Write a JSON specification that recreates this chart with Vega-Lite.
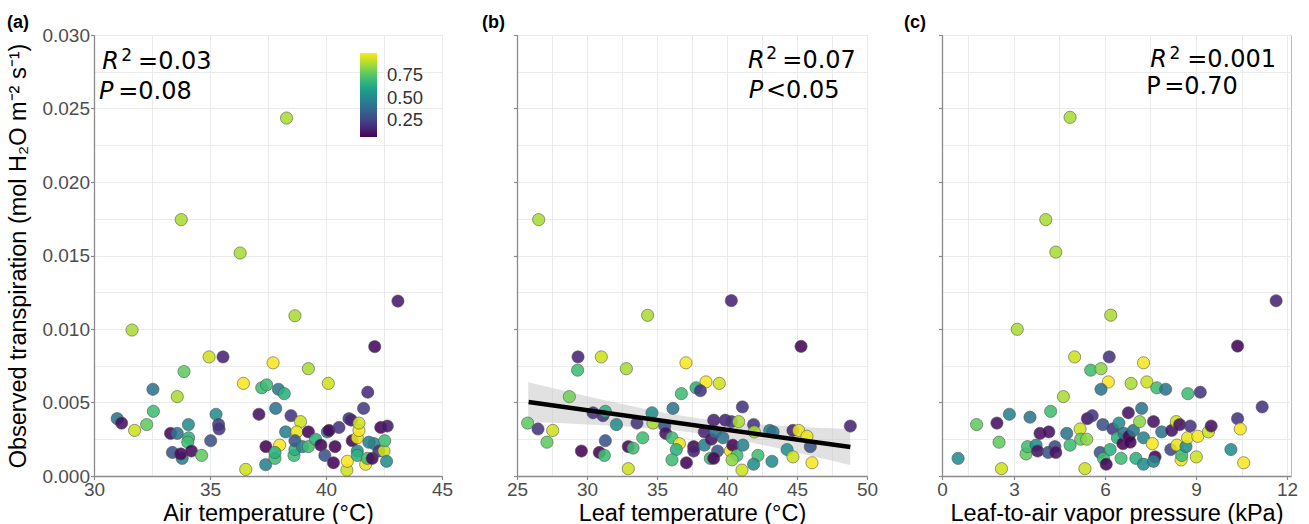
{
  "$schema": "https://vega.github.io/schema/vega-lite/v6.json",
  "background": "white",
  "padding": {"left": 6, "top": 13, "right": 5, "bottom": 0},
  "bounds": "flush",
  "spacing": 75,
  "config": {
    "font": "Liberation Sans",
    "view": {"stroke": "#bdbdbd", "strokeWidth": 1},
    "axis": {"domainColor": "#8a8a8a", "domainWidth": 1.3, "tickColor": "#8a8a8a", "tickWidth": 1.2, "tickSize": 3.5, "gridColor": "#ebebeb", "gridWidth": 1, "labelColor": "#4d4d4d", "labelFontSize": 19, "labelPadding": 1, "titleFontSize": 23.5, "titleFontWeight": "normal", "titleColor": "black", "titlePadding": 2, "labelFlush": false, "labelOverlap": false},
    "title": {"fontSize": 18, "fontWeight": "bold", "color": "black", "anchor": "start", "frame": "group", "offset": 2}
  },
  "datasets": {
    "a": [
      {"air_temp": 38.3, "E": 0.02435, "c": 0.88},
      {"air_temp": 33.76, "E": 0.01744, "c": 0.88},
      {"air_temp": 36.3, "E": 0.01517, "c": 0.88},
      {"air_temp": 31.64, "E": 0.00993, "c": 0.88},
      {"air_temp": 43.1, "E": 0.0119, "c": 0.12},
      {"air_temp": 38.66, "E": 0.0109, "c": 0.88},
      {"air_temp": 42.1, "E": 0.0088, "c": 0.08},
      {"air_temp": 34.96, "E": 0.0081, "c": 0.93},
      {"air_temp": 35.56, "E": 0.0081, "c": 0.15},
      {"air_temp": 37.72, "E": 0.0077, "c": 0.99},
      {"air_temp": 33.88, "E": 0.0071, "c": 0.77},
      {"air_temp": 39.24, "E": 0.0073, "c": 0.88},
      {"air_temp": 36.44, "E": 0.0063, "c": 0.99},
      {"air_temp": 40.1, "E": 0.0063, "c": 0.93},
      {"air_temp": 32.54, "E": 0.0059, "c": 0.42},
      {"air_temp": 37.23, "E": 0.006, "c": 0.71},
      {"air_temp": 37.44, "E": 0.0062, "c": 0.71},
      {"air_temp": 37.95, "E": 0.0059, "c": 0.44},
      {"air_temp": 38.2, "E": 0.0056, "c": 0.66},
      {"air_temp": 33.59, "E": 0.0054, "c": 0.88},
      {"air_temp": 41.8, "E": 0.0057, "c": 0.18},
      {"air_temp": 41.62, "E": 0.0046, "c": 0.22},
      {"air_temp": 37.83, "E": 0.0046, "c": 0.42},
      {"air_temp": 32.56, "E": 0.0044, "c": 0.71},
      {"air_temp": 31.0, "E": 0.0039, "c": 0.42},
      {"air_temp": 31.19, "E": 0.0036, "c": 0.1},
      {"air_temp": 31.75, "E": 0.0031, "c": 0.93},
      {"air_temp": 32.27, "E": 0.0035, "c": 0.77},
      {"air_temp": 35.26, "E": 0.0042, "c": 0.52},
      {"air_temp": 35.37, "E": 0.0035, "c": 0.22},
      {"air_temp": 35.39, "E": 0.0032, "c": 0.2},
      {"air_temp": 34.07, "E": 0.0035, "c": 0.52},
      {"air_temp": 33.3, "E": 0.0029, "c": 0.08},
      {"air_temp": 33.59, "E": 0.0029, "c": 0.42},
      {"air_temp": 34.08, "E": 0.0026, "c": 0.66},
      {"air_temp": 34.04, "E": 0.0023, "c": 0.71},
      {"air_temp": 35.03, "E": 0.0024, "c": 0.3},
      {"air_temp": 33.38, "E": 0.0016, "c": 0.3},
      {"air_temp": 33.8, "E": 0.0012, "c": 0.47},
      {"air_temp": 33.74, "E": 0.0015, "c": 0.08},
      {"air_temp": 34.2, "E": 0.0017, "c": 0.08},
      {"air_temp": 34.64, "E": 0.0014, "c": 0.77},
      {"air_temp": 36.54, "E": 0.00045, "c": 0.93},
      {"air_temp": 37.11, "E": 0.0042, "c": 0.1},
      {"air_temp": 38.49, "E": 0.0041, "c": 0.2},
      {"air_temp": 37.41, "E": 0.002, "c": 0.07},
      {"air_temp": 38.0, "E": 0.0021, "c": 0.99},
      {"air_temp": 37.4, "E": 0.00077, "c": 0.47},
      {"air_temp": 37.8, "E": 0.0012, "c": 0.71},
      {"air_temp": 37.8, "E": 0.0016, "c": 0.66},
      {"air_temp": 38.26, "E": 0.003, "c": 0.47},
      {"air_temp": 38.62, "E": 0.0014, "c": 0.71},
      {"air_temp": 38.66, "E": 0.0018, "c": 0.66},
      {"air_temp": 38.9, "E": 0.0037, "c": 0.93},
      {"air_temp": 38.74, "E": 0.003, "c": 0.97},
      {"air_temp": 38.66, "E": 0.0024, "c": 0.3},
      {"air_temp": 38.98, "E": 0.002, "c": 0.47},
      {"air_temp": 39.24, "E": 0.002, "c": 0.71},
      {"air_temp": 39.24, "E": 0.003, "c": 0.07},
      {"air_temp": 39.55, "E": 0.0025, "c": 0.66},
      {"air_temp": 39.78, "E": 0.0021, "c": 0.07},
      {"air_temp": 39.95, "E": 0.0014, "c": 0.3},
      {"air_temp": 40.06, "E": 0.003, "c": 0.42},
      {"air_temp": 40.13, "E": 0.0031, "c": 0.07},
      {"air_temp": 40.32, "E": 0.0009, "c": 0.07},
      {"air_temp": 40.39, "E": 0.002, "c": 0.07},
      {"air_temp": 40.56, "E": 0.0033, "c": 0.2},
      {"air_temp": 40.9, "E": 0.0004, "c": 0.93},
      {"air_temp": 40.92, "E": 0.001, "c": 0.99},
      {"air_temp": 40.99, "E": 0.0039, "c": 0.2},
      {"air_temp": 41.09, "E": 0.0038, "c": 0.15},
      {"air_temp": 41.13, "E": 0.0024, "c": 0.07},
      {"air_temp": 41.35, "E": 0.0017, "c": 0.52},
      {"air_temp": 41.35, "E": 0.0014, "c": 0.66},
      {"air_temp": 41.35, "E": 0.0026, "c": 0.97},
      {"air_temp": 41.42, "E": 0.0031, "c": 0.99},
      {"air_temp": 41.42, "E": 0.0036, "c": 0.93},
      {"air_temp": 41.71, "E": 0.0008, "c": 0.97},
      {"air_temp": 41.78, "E": 0.0012, "c": 0.71},
      {"air_temp": 41.99, "E": 0.0012, "c": 0.07},
      {"air_temp": 42.07, "E": 0.0022, "c": 0.52},
      {"air_temp": 42.28, "E": 0.0017, "c": 0.2},
      {"air_temp": 42.5, "E": 0.0017, "c": 0.93},
      {"air_temp": 42.36, "E": 0.0033, "c": 0.07},
      {"air_temp": 42.64, "E": 0.0034, "c": 0.12},
      {"air_temp": 42.53, "E": 0.0024, "c": 0.71},
      {"air_temp": 42.61, "E": 0.001, "c": 0.52},
      {"air_temp": 41.85, "E": 0.0023, "c": 0.47}
    ],
    "b": [
      {"leaf_temp": 26.55, "E": 0.01744, "c": 0.88},
      {"leaf_temp": 40.31, "E": 0.01193, "c": 0.15},
      {"leaf_temp": 45.29, "E": 0.00882, "c": 0.07},
      {"leaf_temp": 34.33, "E": 0.01093, "c": 0.88},
      {"leaf_temp": 29.36, "E": 0.0081, "c": 0.15},
      {"leaf_temp": 31.02, "E": 0.0081, "c": 0.93},
      {"leaf_temp": 29.33, "E": 0.0072, "c": 0.71},
      {"leaf_temp": 32.81, "E": 0.0073, "c": 0.88},
      {"leaf_temp": 37.07, "E": 0.0077, "c": 0.99},
      {"leaf_temp": 38.5, "E": 0.0064, "c": 0.99},
      {"leaf_temp": 39.45, "E": 0.0063, "c": 0.93},
      {"leaf_temp": 37.79, "E": 0.006, "c": 0.66},
      {"leaf_temp": 38.1, "E": 0.0058, "c": 0.2},
      {"leaf_temp": 36.74, "E": 0.0056, "c": 0.71},
      {"leaf_temp": 28.74, "E": 0.0054, "c": 0.8},
      {"leaf_temp": 36.14, "E": 0.0046, "c": 0.42},
      {"leaf_temp": 41.1, "E": 0.0047, "c": 0.2},
      {"leaf_temp": 25.76, "E": 0.0036, "c": 0.77},
      {"leaf_temp": 26.5, "E": 0.0032, "c": 0.2},
      {"leaf_temp": 27.55, "E": 0.0031, "c": 0.93},
      {"leaf_temp": 27.14, "E": 0.0023, "c": 0.77},
      {"leaf_temp": 30.43, "E": 0.0043, "c": 0.2},
      {"leaf_temp": 31.14, "E": 0.0041, "c": 0.2},
      {"leaf_temp": 31.31, "E": 0.0044, "c": 0.66},
      {"leaf_temp": 32.1, "E": 0.0035, "c": 0.52},
      {"leaf_temp": 33.57, "E": 0.0036, "c": 0.2},
      {"leaf_temp": 34.64, "E": 0.0043, "c": 0.52},
      {"leaf_temp": 34.71, "E": 0.0036, "c": 0.88},
      {"leaf_temp": 35.55, "E": 0.0034, "c": 0.3},
      {"leaf_temp": 35.62, "E": 0.0029, "c": 0.1},
      {"leaf_temp": 31.31, "E": 0.0024, "c": 0.3},
      {"leaf_temp": 29.6, "E": 0.0017, "c": 0.07},
      {"leaf_temp": 30.88, "E": 0.0016, "c": 0.07},
      {"leaf_temp": 31.24, "E": 0.0014, "c": 0.71},
      {"leaf_temp": 32.95, "E": 0.002, "c": 0.07},
      {"leaf_temp": 33.29, "E": 0.0019, "c": 0.71},
      {"leaf_temp": 33.98, "E": 0.0026, "c": 0.71},
      {"leaf_temp": 32.95, "E": 0.0005, "c": 0.93},
      {"leaf_temp": 36.07, "E": 0.0026, "c": 0.71},
      {"leaf_temp": 36.6, "E": 0.0022, "c": 0.97},
      {"leaf_temp": 36.38, "E": 0.0018, "c": 0.66},
      {"leaf_temp": 36.07, "E": 0.0011, "c": 0.71},
      {"leaf_temp": 37.1, "E": 0.0009, "c": 0.07},
      {"leaf_temp": 37.62, "E": 0.002, "c": 0.07},
      {"leaf_temp": 37.62, "E": 0.0017, "c": 0.15},
      {"leaf_temp": 38.38, "E": 0.0021, "c": 0.47},
      {"leaf_temp": 38.38, "E": 0.003, "c": 0.15},
      {"leaf_temp": 38.88, "E": 0.0025, "c": 0.1},
      {"leaf_temp": 39.05, "E": 0.0038, "c": 0.15},
      {"leaf_temp": 39.17, "E": 0.003, "c": 0.42},
      {"leaf_temp": 39.71, "E": 0.0026, "c": 0.42},
      {"leaf_temp": 39.88, "E": 0.0038, "c": 0.15},
      {"leaf_temp": 40.31, "E": 0.0037, "c": 0.2},
      {"leaf_temp": 40.83, "E": 0.0037, "c": 0.88},
      {"leaf_temp": 39.33, "E": 0.0017, "c": 0.3},
      {"leaf_temp": 38.81, "E": 0.0012, "c": 0.71},
      {"leaf_temp": 39.05, "E": 0.0012, "c": 0.07},
      {"leaf_temp": 40.24, "E": 0.0017, "c": 0.97},
      {"leaf_temp": 40.41, "E": 0.0021, "c": 0.07},
      {"leaf_temp": 40.71, "E": 0.0014, "c": 0.71},
      {"leaf_temp": 40.36, "E": 0.0011, "c": 0.84},
      {"leaf_temp": 41.14, "E": 0.0021, "c": 0.47},
      {"leaf_temp": 41.07, "E": 0.0004, "c": 0.93},
      {"leaf_temp": 41.9, "E": 0.0035, "c": 0.2},
      {"leaf_temp": 41.95, "E": 0.003, "c": 0.88},
      {"leaf_temp": 42.21, "E": 0.0014, "c": 0.71},
      {"leaf_temp": 41.9, "E": 0.0008, "c": 0.52},
      {"leaf_temp": 43.05, "E": 0.0031, "c": 0.47},
      {"leaf_temp": 43.29, "E": 0.003, "c": 0.42},
      {"leaf_temp": 43.21, "E": 0.001, "c": 0.52},
      {"leaf_temp": 44.29, "E": 0.0018, "c": 0.52},
      {"leaf_temp": 44.71, "E": 0.0013, "c": 0.93},
      {"leaf_temp": 44.71, "E": 0.0031, "c": 0.15},
      {"leaf_temp": 45.12, "E": 0.0031, "c": 0.97},
      {"leaf_temp": 45.71, "E": 0.0027, "c": 0.97},
      {"leaf_temp": 45.95, "E": 0.002, "c": 0.3},
      {"leaf_temp": 46.07, "E": 0.0009, "c": 0.99},
      {"leaf_temp": 48.81, "E": 0.0034, "c": 0.15}
    ],
    "b_band": [
      {"leaf_temp": 25.8, "E": 0.00368, "E_hi": 0.00638},
      {"leaf_temp": 28, "E": 0.0036, "E_hi": 0.00588},
      {"leaf_temp": 30, "E": 0.00351, "E_hi": 0.00543},
      {"leaf_temp": 32, "E": 0.00342, "E_hi": 0.005},
      {"leaf_temp": 34, "E": 0.00329, "E_hi": 0.00459},
      {"leaf_temp": 36, "E": 0.00313, "E_hi": 0.00421},
      {"leaf_temp": 38, "E": 0.00291, "E_hi": 0.00391},
      {"leaf_temp": 40, "E": 0.0026, "E_hi": 0.00368},
      {"leaf_temp": 42, "E": 0.00223, "E_hi": 0.00353},
      {"leaf_temp": 44, "E": 0.00182, "E_hi": 0.0034},
      {"leaf_temp": 46, "E": 0.00138, "E_hi": 0.0033},
      {"leaf_temp": 48.8, "E": 0.00075, "E_hi": 0.00319}
    ],
    "b_fit": [
      {"leaf_temp": 25.83, "E": 0.00503},
      {"leaf_temp": 48.81, "E": 0.00197}
    ],
    "c": [
      {"vpd": 4.85, "E": 0.0244, "c": 0.88},
      {"vpd": 4.05, "E": 0.01744, "c": 0.88},
      {"vpd": 4.38, "E": 0.01523, "c": 0.88},
      {"vpd": 11.64, "E": 0.01192, "c": 0.15},
      {"vpd": 6.19, "E": 0.01094, "c": 0.88},
      {"vpd": 3.11, "E": 0.00998, "c": 0.88},
      {"vpd": 10.37, "E": 0.00884, "c": 0.07},
      {"vpd": 5.0, "E": 0.0081, "c": 0.93},
      {"vpd": 6.14, "E": 0.0081, "c": 0.2},
      {"vpd": 7.27, "E": 0.0077, "c": 0.99},
      {"vpd": 5.53, "E": 0.0072, "c": 0.71},
      {"vpd": 5.87, "E": 0.0073, "c": 0.84},
      {"vpd": 6.11, "E": 0.0064, "c": 0.99},
      {"vpd": 6.86, "E": 0.0063, "c": 0.88},
      {"vpd": 7.38, "E": 0.0064, "c": 0.93},
      {"vpd": 5.87, "E": 0.0059, "c": 0.42},
      {"vpd": 7.71, "E": 0.006, "c": 0.71},
      {"vpd": 8.0, "E": 0.0059, "c": 0.42},
      {"vpd": 8.73, "E": 0.0056, "c": 0.71},
      {"vpd": 9.14, "E": 0.0057, "c": 0.2},
      {"vpd": 4.63, "E": 0.0054, "c": 0.88},
      {"vpd": 11.18, "E": 0.0047, "c": 0.2},
      {"vpd": 7.21, "E": 0.0046, "c": 0.42},
      {"vpd": 4.21, "E": 0.0044, "c": 0.71},
      {"vpd": 2.85, "E": 0.0042, "c": 0.47},
      {"vpd": 1.77, "E": 0.0035, "c": 0.77},
      {"vpd": 2.44, "E": 0.0036, "c": 0.1},
      {"vpd": 3.53, "E": 0.004, "c": 0.42},
      {"vpd": 1.16, "E": 0.0012, "c": 0.52},
      {"vpd": 2.51, "E": 0.0023, "c": 0.77},
      {"vpd": 2.59, "E": 0.0005, "c": 0.93},
      {"vpd": 3.4, "E": 0.0015, "c": 0.77},
      {"vpd": 3.45, "E": 0.002, "c": 0.71},
      {"vpd": 3.73, "E": 0.0021, "c": 0.52},
      {"vpd": 3.78, "E": 0.0017, "c": 0.1},
      {"vpd": 3.86, "E": 0.0029, "c": 0.1},
      {"vpd": 4.15, "E": 0.003, "c": 0.1},
      {"vpd": 4.13, "E": 0.0016, "c": 0.3},
      {"vpd": 4.35, "E": 0.002, "c": 0.25},
      {"vpd": 4.38, "E": 0.0016, "c": 0.1},
      {"vpd": 4.74, "E": 0.0029, "c": 0.42},
      {"vpd": 4.85, "E": 0.0021, "c": 0.71},
      {"vpd": 5.18, "E": 0.0032, "c": 0.93},
      {"vpd": 5.2, "E": 0.0025, "c": 0.77},
      {"vpd": 5.4, "E": 0.0025, "c": 0.84},
      {"vpd": 5.42, "E": 0.0039, "c": 0.1},
      {"vpd": 5.58, "E": 0.0041, "c": 0.2},
      {"vpd": 5.34, "E": 0.0005, "c": 0.93},
      {"vpd": 5.84, "E": 0.0016, "c": 0.3},
      {"vpd": 5.93, "E": 0.0035, "c": 0.3},
      {"vpd": 5.95, "E": 0.0012, "c": 0.71},
      {"vpd": 6.04, "E": 0.0008, "c": 0.07},
      {"vpd": 6.17, "E": 0.0018, "c": 0.66},
      {"vpd": 6.26, "E": 0.0032, "c": 0.2},
      {"vpd": 6.46, "E": 0.0036, "c": 0.52},
      {"vpd": 6.41, "E": 0.0026, "c": 0.66},
      {"vpd": 6.53, "E": 0.0012, "c": 0.71},
      {"vpd": 6.59, "E": 0.0022, "c": 0.07},
      {"vpd": 6.63, "E": 0.0029, "c": 0.42},
      {"vpd": 6.77, "E": 0.0043, "c": 0.1},
      {"vpd": 6.79, "E": 0.0027, "c": 0.07},
      {"vpd": 6.83, "E": 0.0023, "c": 0.07},
      {"vpd": 6.94, "E": 0.0031, "c": 0.42},
      {"vpd": 7.02, "E": 0.0012, "c": 0.66},
      {"vpd": 7.14, "E": 0.0037, "c": 0.84},
      {"vpd": 7.27, "E": 0.0026, "c": 0.47},
      {"vpd": 7.27, "E": 0.0008, "c": 0.52},
      {"vpd": 7.56, "E": 0.0022, "c": 0.99},
      {"vpd": 7.6, "E": 0.0037, "c": 0.1},
      {"vpd": 7.65, "E": 0.0013, "c": 0.07},
      {"vpd": 7.6, "E": 0.001, "c": 0.47},
      {"vpd": 7.87, "E": 0.003, "c": 0.42},
      {"vpd": 8.17, "E": 0.0018, "c": 0.25},
      {"vpd": 8.2, "E": 0.0031, "c": 0.1},
      {"vpd": 8.35, "E": 0.0037, "c": 0.93},
      {"vpd": 8.46, "E": 0.0035, "c": 0.1},
      {"vpd": 8.37, "E": 0.0021, "c": 0.97},
      {"vpd": 8.51, "E": 0.0011, "c": 0.97},
      {"vpd": 8.53, "E": 0.0014, "c": 0.71},
      {"vpd": 8.67, "E": 0.002, "c": 0.52},
      {"vpd": 8.72, "E": 0.0026, "c": 0.97},
      {"vpd": 8.81, "E": 0.0034, "c": 0.2},
      {"vpd": 9.01, "E": 0.0013, "c": 0.93},
      {"vpd": 9.06, "E": 0.0027, "c": 0.99},
      {"vpd": 9.41, "E": 0.003, "c": 0.93},
      {"vpd": 9.5, "E": 0.0034, "c": 0.1},
      {"vpd": 10.37, "E": 0.0039, "c": 0.2},
      {"vpd": 10.15, "E": 0.0018, "c": 0.52},
      {"vpd": 10.46, "E": 0.0032, "c": 0.99},
      {"vpd": 10.57, "E": 0.0009, "c": 0.99}
    ],
    "a_it": [
      {"air_temp": 30.36, "E": 0.02769, "t": "R"},
      {"air_temp": 30.22, "E": 0.02565, "t": "P"}
    ],
    "a_sup": [
      {"air_temp": 31.17, "E": 0.02823, "t": "2"}
    ],
    "a_up": [
      {"air_temp": 31.9, "E": 0.02769, "t": "=0.03"},
      {"air_temp": 31.04, "E": 0.02565, "t": "=0.08"}
    ],
    "b_it": [
      {"leaf_temp": 41.5, "E": 0.02776, "t": "R"},
      {"leaf_temp": 41.55, "E": 0.02571, "t": "P"}
    ],
    "b_sup": [
      {"leaf_temp": 42.8, "E": 0.02837, "t": "2"}
    ],
    "b_up": [
      {"leaf_temp": 43.95, "E": 0.02776, "t": "=0.07"},
      {"leaf_temp": 42.78, "E": 0.02571, "t": "<0.05"}
    ],
    "c_it": [
      {"vpd": 7.49, "E": 0.02779, "t": "R"}
    ],
    "c_sup": [
      {"vpd": 8.13, "E": 0.02836, "t": "2"}
    ],
    "c_up": [
      {"vpd": 8.71, "E": 0.02779, "t": "=0.001"},
      {"vpd": 7.36, "E": 0.026, "t": "P"},
      {"vpd": 7.95, "E": 0.026, "t": "=0.70"}
    ]
  },
  "hconcat": [
    {
      "width": 348,
      "height": 441,
      "title": {"text": "(a)", "dx": -87, "dy": 8},
      "encoding": {
        "x": {"field": "air_temp", "type": "quantitative", "scale": {"domain": [30, 45], "nice": false, "zero": false},
          "axis": {"title": "Air temperature (°C)", "values": [30, 32.5, 35, 37.5, 40, 42.5, 45],
            "labelExpr": "datum.value % 5 == 0 ? datum.label : ''",
            "tickOpacity": {"condition": {"test": "datum.value % 5 == 0", "value": 1}, "value": 0}}},
        "y": {"field": "E", "type": "quantitative", "scale": {"domain": [0, 0.03], "nice": false},
          "axis": {"title": "Observed transpiration (mol H₂O m⁻² s⁻¹)", "titlePadding": 11,
            "values": [0, 0.0025, 0.005, 0.0075, 0.01, 0.0125, 0.015, 0.0175, 0.02, 0.0225, 0.025, 0.0275, 0.03],
            "labelExpr": "abs(datum.value*200 - round(datum.value*200)) < 0.01 ? format(datum.value, '.3f') : ''",
            "tickOpacity": {"condition": {"test": "abs(datum.value*200 - round(datum.value*200)) < 0.01", "value": 1}, "value": 0}}}
      },
      "layer": [
        {
          "data": {"name": "a"},
          "mark": {"type": "circle", "size": 150, "opacity": 1, "fillOpacity": 0.88, "stroke": "#4d4d4d", "strokeWidth": 0.7, "strokeOpacity": 0.8},
          "encoding": {
            "color": {"field": "c", "type": "quantitative", "scale": {"scheme": "viridis", "domain": [0.06, 1.0]},
              "legend": {"title": null, "values": [0.25, 0.5, 0.75], "format": ".2f", "orient": "top-right", "direction": "vertical",
                "gradientLength": 84, "gradientThickness": 17, "labelFontSize": 18.5, "labelOffset": 10, "labelColor": "#333333",
                "offset": 18, "padding": 0, "gradientStrokeWidth": 0, "labelOverlap": false}}
          }
        },
        {
          "data": {"name": "a_it"},
          "mark": {"type": "text", "font": "DejaVu Sans", "fontStyle": "italic", "fontSize": 24, "align": "left", "baseline": "alphabetic", "color": "black"},
          "encoding": {"text": {"field": "t"}}
        },
        {
          "data": {"name": "a_sup"},
          "mark": {"type": "text", "font": "DejaVu Sans", "fontSize": 17, "align": "left", "baseline": "alphabetic", "color": "black"},
          "encoding": {"text": {"field": "t"}}
        },
        {
          "data": {"name": "a_up"},
          "mark": {"type": "text", "font": "DejaVu Sans", "fontSize": 24, "align": "left", "baseline": "alphabetic", "color": "black"},
          "encoding": {"text": {"field": "t"}}
        }
      ]
    },
    {
      "width": 350,
      "height": 441,
      "title": {"text": "(b)", "dx": -35},
      "encoding": {
        "x": {"field": "leaf_temp", "type": "quantitative", "scale": {"domain": [25, 50], "nice": false, "zero": false},
          "axis": {"title": "Leaf temperature (°C)", "values": [25, 27.5, 30, 32.5, 35, 37.5, 40, 42.5, 45, 47.5, 50],
            "labelExpr": "datum.value % 5 == 0 ? datum.label : ''",
            "tickOpacity": {"condition": {"test": "datum.value % 5 == 0", "value": 1}, "value": 0}}},
        "y": {"field": "E", "type": "quantitative", "scale": {"domain": [0, 0.03], "nice": false},
          "axis": {"title": null, "labels": false,
            "values": [0, 0.0025, 0.005, 0.0075, 0.01, 0.0125, 0.015, 0.0175, 0.02, 0.0225, 0.025, 0.0275, 0.03],
            "tickOpacity": {"condition": {"test": "abs(datum.value*200 - round(datum.value*200)) < 0.01", "value": 1}, "value": 0}}}
      },
      "layer": [
        {
          "data": {"name": "b_band"},
          "mark": {"type": "area", "color": "#c4c4c4", "opacity": 0.5},
          "encoding": {"y2": {"field": "E_hi"}}
        },
        {
          "data": {"name": "b"},
          "mark": {"type": "circle", "size": 150, "opacity": 1, "fillOpacity": 0.88, "stroke": "#4d4d4d", "strokeWidth": 0.7, "strokeOpacity": 0.8},
          "encoding": {
            "color": {"field": "c", "type": "quantitative", "scale": {"scheme": "viridis", "domain": [0.06, 1.0]}, "legend": null}
          }
        },
        {
          "data": {"name": "b_fit"},
          "mark": {"type": "line", "color": "black", "strokeWidth": 4.5},
          "encoding": {}
        },
        {
          "data": {"name": "b_it"},
          "mark": {"type": "text", "font": "DejaVu Sans", "fontStyle": "italic", "fontSize": 24, "align": "left", "baseline": "alphabetic", "color": "black"},
          "encoding": {"text": {"field": "t"}}
        },
        {
          "data": {"name": "b_sup"},
          "mark": {"type": "text", "font": "DejaVu Sans", "fontSize": 17, "align": "left", "baseline": "alphabetic", "color": "black"},
          "encoding": {"text": {"field": "t"}}
        },
        {
          "data": {"name": "b_up"},
          "mark": {"type": "text", "font": "DejaVu Sans", "fontSize": 24, "align": "left", "baseline": "alphabetic", "color": "black"},
          "encoding": {"text": {"field": "t"}}
        }
      ]
    },
    {
      "width": 349,
      "height": 441,
      "title": {"text": "(c)", "dx": -38},
      "encoding": {
        "x": {"field": "vpd", "type": "quantitative", "scale": {"domain": [0.63, 12.13], "nice": false, "zero": false},
          "axis": {"title": "Leaf-to-air vapor pressure (kPa)", "values": [0.63, 1.5, 3, 4.5, 6, 7.5, 9, 10.5, 12],
            "labelExpr": "datum.value < 1 ? '0' : (datum.value % 3 == 0 ? datum.label : '')",
            "tickOpacity": {"condition": {"test": "datum.value < 1 || datum.value % 3 == 0", "value": 1}, "value": 0}}},
        "y": {"field": "E", "type": "quantitative", "scale": {"domain": [0, 0.03], "nice": false},
          "axis": {"title": null, "labels": false,
            "values": [0, 0.0025, 0.005, 0.0075, 0.01, 0.0125, 0.015, 0.0175, 0.02, 0.0225, 0.025, 0.0275, 0.03],
            "tickOpacity": {"condition": {"test": "abs(datum.value*200 - round(datum.value*200)) < 0.01", "value": 1}, "value": 0}}}
      },
      "layer": [
        {
          "data": {"name": "c"},
          "mark": {"type": "circle", "size": 150, "opacity": 1, "fillOpacity": 0.88, "stroke": "#4d4d4d", "strokeWidth": 0.7, "strokeOpacity": 0.8},
          "encoding": {
            "color": {"field": "c", "type": "quantitative", "scale": {"scheme": "viridis", "domain": [0.06, 1.0]}, "legend": null}
          }
        },
        {
          "data": {"name": "c_it"},
          "mark": {"type": "text", "font": "DejaVu Sans", "fontStyle": "italic", "fontSize": 24, "align": "left", "baseline": "alphabetic", "color": "black"},
          "encoding": {"text": {"field": "t"}}
        },
        {
          "data": {"name": "c_sup"},
          "mark": {"type": "text", "font": "DejaVu Sans", "fontSize": 17, "align": "left", "baseline": "alphabetic", "color": "black"},
          "encoding": {"text": {"field": "t"}}
        },
        {
          "data": {"name": "c_up"},
          "mark": {"type": "text", "font": "DejaVu Sans", "fontSize": 24, "align": "left", "baseline": "alphabetic", "color": "black"},
          "encoding": {"text": {"field": "t"}}
        }
      ]
    }
  ],
  "resolve": {"scale": {"color": "independent"}, "legend": {"color": "independent"}}
}
